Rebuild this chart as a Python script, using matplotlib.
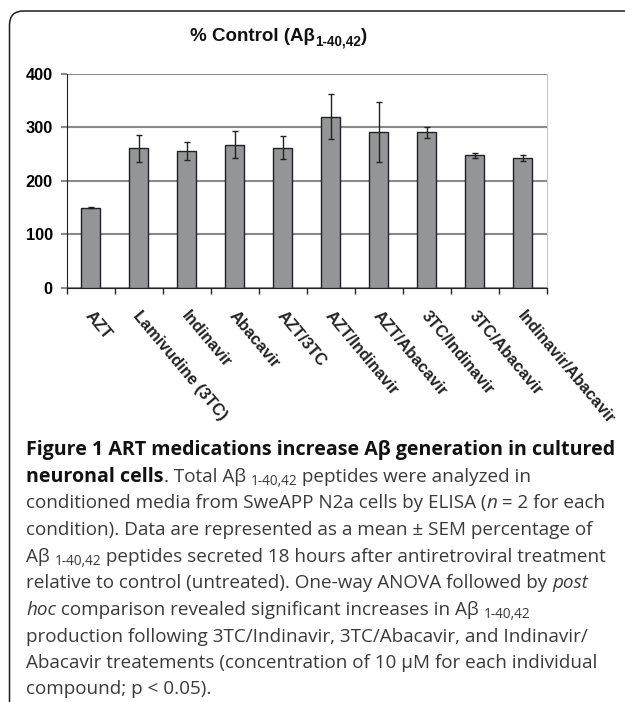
import matplotlib
matplotlib.use('Agg')
import matplotlib.pyplot as plt
import matplotlib.transforms as mtransforms
from matplotlib.patches import FancyBboxPatch

# data
drugs = ['AZT', 'Lamivudine (3TC)', 'Indinavir', 'Abacavir', 'AZT/3TC',
         'AZT/Indinavir', 'AZT/Abacavir', '3TC/Indinavir', '3TC/Abacavir',
         'Indinavir/Abacavir']
pct_control = [150, 261, 256, 268, 262, 320, 291, 291, 248, 243]
sem = [1, 25.5, 17.5, 25.5, 21.5, 42, 56.5, 10, 5, 5]
yticks = [0, 100, 200, 300, 400]

W, H = 625, 702
fig = plt.figure(figsize=(W / 100, H / 100), dpi=100)
pix = mtransforms.IdentityTransform()

# rounded frame of the figure box (runs off right and bottom)
frame = FancyBboxPatch((9.5, -60), 700, (H - 11) + 60,
                       boxstyle='round,pad=0,rounding_size=14',
                       transform=pix, fill=False, edgecolor='#1e1e1e',
                       linewidth=1.1)
fig.patches.append(frame)

ax = fig.add_axes([66.7 / W, 1 - 287.7 / H, 480 / W, 213.7 / H])
x = list(range(len(drugs)))
ax.bar(x, pct_control, width=0.4, color='#949599', edgecolor='#222222',
       linewidth=1.0, zorder=3,
       yerr=sem, capsize=2.5,
       error_kw=dict(ecolor='#222222', elinewidth=1.0, capthick=1.0))
ax.set_xlim(-0.5, len(drugs) - 0.5)
ax.set_ylim(0, 400)
ax.set_yticks(yticks)
ax.set_yticklabels([str(v) for v in yticks], fontfamily='Liberation Sans',
                   fontweight='bold', fontsize=11.8)
ax.yaxis.grid(True, color='#8a8a8a', linewidth=1.5, zorder=0)
ax.set_axisbelow(True)
ax.tick_params(axis='y', length=4, width=1.5, color='#8a8a8a', pad=6)
ax.set_xticks([i - 0.5 for i in range(len(drugs) + 1)])
ax.set_xticklabels([])
ax.tick_params(axis='x', length=4, width=1, color='#222222', direction='out')
ax.spines['top'].set_visible(False)
ax.spines['right'].set_color('#c8c8c8')
ax.spines['left'].set_color('#222222')
ax.spines['bottom'].set_color('#222222')

for i, name in enumerate(drugs):
    ax.text(i + 0.06, -0.095, name, transform=ax.get_xaxis_transform(),
            rotation=-50, rotation_mode='anchor', ha='left', va='top',
            fontfamily='Liberation Sans', fontweight='bold', fontsize=11.8,
            color='#222222')

renderer = fig.canvas.get_renderer()


def seg_width(txt, props):
    t = fig.text(0, 0, txt + '.', transform=pix, **props)
    d = fig.text(0, 0, '.', transform=pix, **props)
    w = t.get_window_extent(renderer).width - d.get_window_extent(renderer).width
    t.remove()
    d.remove()
    return w


def draw_runs(x0, ybase, runs, size, family, color, bold_size=None):
    xpos = x0
    for txt, kind in runs:
        props = dict(fontfamily=family, fontsize=size, color=color)
        dy = 0
        if kind == 'b':
            props['fontweight'] = 'bold'
            props['color'] = '#111111'
            props['fontsize'] = bold_size or size
        elif kind == 'i':
            props['fontstyle'] = 'italic'
        elif kind == 'sub':
            props['fontsize'] = size * 0.72
            dy = -size * 0.25
        elif kind == 'bsub':
            props['fontsize'] = size * 0.72
            props['fontweight'] = 'bold'
            props['color'] = '#111111'
            dy = -size * 0.3
        fig.text(xpos, H - ybase + dy, txt, transform=pix, va='baseline',
                 ha='left', **props)
        xpos += seg_width(txt, props)


# chart title
draw_runs(190, 41, [('% Control (Aβ', 'b'), ('1-40,42', 'bsub'), (')', 'b')],
          13.5, 'Liberation Sans', '#111111')

caption = [
    [('Figure 1 ART medications increase Aβ generation in cultured', 'b')],
    [('neuronal cells', 'b'), ('. Total Aβ ', 'r'), ('1-40,42', 'sub'),
     (' peptides were analyzed in', 'r')],
    [('conditioned media from SweAPP N2a cells by ELISA (', 'r'), ('n', 'i'),
     (' = 2 for each', 'r')],
    [('condition). Data are represented as a mean ± SEM percentage of', 'r')],
    [('Aβ ', 'r'), ('1-40,42', 'sub'),
     (' peptides secreted 18 hours after antiretroviral treatment', 'r')],
    [('relative to control (untreated). One-way ANOVA followed by ', 'r'),
     ('post', 'i')],
    [('hoc', 'i'), (' comparison revealed significant increases in Aβ ', 'r'),
     ('1-40,42', 'sub')],
    [('production following 3TC/Indinavir, 3TC/Abacavir, and Indinavir/', 'r')],
    [('Abacavir treatements (concentration of 10 μM for each individual', 'r')],
    [('compound; p < 0.05).', 'r')],
]
baselines = [455, 482, 508, 535, 562, 588, 615, 642, 668, 694]
for runs, yb in zip(caption, baselines):
    draw_runs(26, yb, runs, 13.6, 'Open Sans', '#3a3a3a', bold_size=14.1)

fig.savefig('out.png', dpi=100)
